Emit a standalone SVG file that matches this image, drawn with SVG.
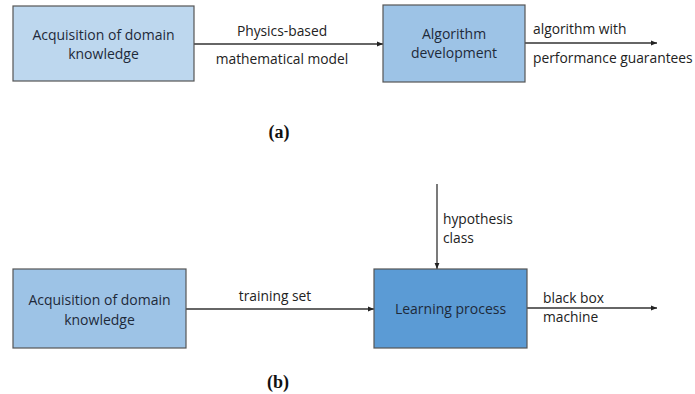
<svg xmlns="http://www.w3.org/2000/svg" width="695" height="394" viewBox="0 0 695 394">
<defs>
<marker id="ah" viewBox="0 0 10 10" refX="10" refY="5" markerWidth="6" markerHeight="6" orient="auto" markerUnits="userSpaceOnUse"><path d="M0,1 L10,5 L0,9 z" fill="#222"/></marker>
<style>
.t{font-family:"Open Sans","Liberation Sans",sans-serif;font-size:13.8px;fill:#222}
.bt{font-family:"Open Sans","Liberation Sans",sans-serif;font-size:14px;fill:#1e2a3a;text-anchor:middle}
.cap{font-family:"Liberation Serif",serif;font-size:18px;font-weight:bold;fill:#111;text-anchor:middle}
.ln{stroke:#333;stroke-width:1.3;fill:none;marker-end:url(#ah)}
.box{stroke:#555;stroke-width:1.2}
</style>
</defs>
<rect width="695" height="394" fill="#fff"/>
<g id="connectors">
<line class="ln" x1="194" y1="44" x2="383" y2="44"/>
<line class="ln" x1="525" y1="43" x2="657" y2="43"/>
<line class="ln" x1="186" y1="309" x2="374" y2="309"/>
<line class="ln" x1="437" y1="184" x2="437" y2="269"/>
<line class="ln" x1="527" y1="308" x2="657" y2="308"/>
<text class="t" x="282" y="36" text-anchor="middle">Physics-based</text>
<text class="t" x="282" y="64" text-anchor="middle">mathematical model</text>
<text class="t" x="533" y="34">algorithm with</text>
<text class="t" x="533" y="63">performance guarantees</text>
<text class="t" x="275" y="301" text-anchor="middle">training set</text>
<text class="t" x="443" y="224">hypothesis</text>
<text class="t" x="443" y="243">class</text>
<text class="t" x="543" y="303">black box</text>
<text class="t" x="543" y="322">machine</text>
</g>
<g id="a1">
<rect class="box" x="13" y="6" width="181" height="75" fill="#bdd7ee"/>
<text class="bt" x="103.5" y="40">Acquisition of domain</text>
<text class="bt" x="103.5" y="59">knowledge</text>
</g>
<g id="a2">
<rect class="box" x="383" y="5" width="142" height="77" fill="#9dc3e6"/>
<text class="bt" x="454" y="39">Algorithm</text>
<text class="bt" x="454" y="58">development</text>
</g>
<g id="b1">
<rect class="box" x="13" y="269" width="173" height="79" fill="#9dc3e6" stroke="#6f8fb0"/>
<text class="bt" x="99.5" y="305">Acquisition of domain</text>
<text class="bt" x="99.5" y="325">knowledge</text>
</g>
<g id="b2">
<rect class="box" x="374" y="269" width="153" height="79" fill="#5b9bd5" stroke="#4a7fb5"/>
<text class="bt" x="450.5" y="314">Learning process</text>
</g>
<text class="cap" x="279" y="138">(a)</text>
<text class="cap" x="278" y="388">(b)</text>
</svg>
